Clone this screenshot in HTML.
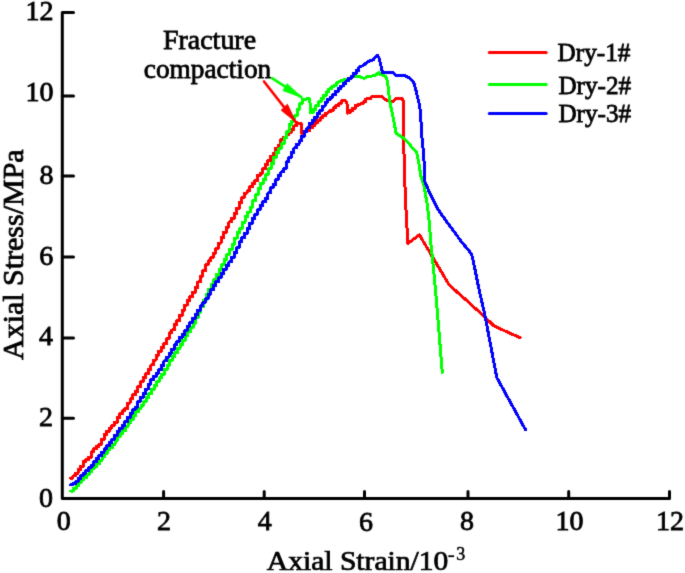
<!DOCTYPE html>
<html><head><meta charset="utf-8"><style>
html,body{margin:0;padding:0;background:#fff;}
svg{display:block;will-change:transform;}
text{font-family:"Liberation Serif", serif;fill:#000;}
</style></head><body>
<svg width="685" height="573" viewBox="0 0 685 573">
<defs><filter id="bl" x="0" y="0" width="685" height="573" filterUnits="userSpaceOnUse" color-interpolation-filters="sRGB"><feConvolveMatrix order="3" kernelMatrix="1 6 1 6 36 6 1 6 1" divisor="64" edgeMode="duplicate"/></filter></defs>
<rect width="685" height="573" fill="#fff"/>
<g filter="url(#bl)">
<g fill="none" stroke="#000" stroke-width="3" stroke-linecap="round" stroke-linejoin="round">
<path d="M73.5,12.5 H62.3 V498.6 H669.5 V491.5"/>
<path d="M62.3,96.1 H73.5 M62.3,176.1 H73.5 M62.3,257.1 H73.5 M62.3,338.1 H73.5 M62.3,418.2 H73.5"/>
<path d="M163.6,498.6 V491.5 M264.2,498.6 V491.5 M364.5,498.6 V491.5 M468,498.6 V491.5 M568.7,498.6 V491.5"/>
</g>
<text transform="translate(25.50,19.70)" font-size="28" stroke="#000" stroke-width="0.8">12</text>
<text transform="translate(25.55,100.85)" font-size="28" stroke="#000" stroke-width="0.8">10</text>
<text transform="translate(39.50,184.00)" font-size="28" stroke="#000" stroke-width="0.8">8</text>
<text transform="translate(39.15,265.20)" font-size="28" stroke="#000" stroke-width="0.8">6</text>
<text transform="translate(39.00,345.00)" font-size="28" stroke="#000" stroke-width="0.8">4</text>
<text transform="translate(39.00,426.05)" font-size="28" stroke="#000" stroke-width="0.8">2</text>
<text transform="translate(39.05,507.05)" font-size="28" stroke="#000" stroke-width="0.8">0</text>
<text transform="translate(56.70,530.05)" font-size="28" stroke="#000" stroke-width="0.8">0</text>
<text transform="translate(156.90,530.05)" font-size="28" stroke="#000" stroke-width="0.8">2</text>
<text transform="translate(257.80,530.20)" font-size="28" stroke="#000" stroke-width="0.8">4</text>
<text transform="translate(359.10,530.50)" font-size="28" stroke="#000" stroke-width="0.8">6</text>
<text transform="translate(460.10,530.00)" font-size="28" stroke="#000" stroke-width="0.8">8</text>
<text transform="translate(555.60,530.45)" font-size="28" stroke="#000" stroke-width="0.8">10</text>
<text transform="translate(656.10,529.60)" font-size="28" stroke="#000" stroke-width="0.8">12</text>
<text transform="translate(266.81,569.75) scale(1.020,0.937)" font-size="29" stroke="#000" stroke-width="0.8">Axial Strain/10</text>
<text transform="translate(456.30,559.95)" font-size="18" stroke="#000" stroke-width="0.5">3</text>
<text transform="translate(22.61,360.00) rotate(-90) scale(1.034,0.986)" font-size="29" stroke="#000" stroke-width="0.8">Axial Stress/MPa</text>
<text transform="translate(163.00,49.39) scale(0.998,1.011)" font-size="28" stroke="#000" stroke-width="0.8">Fracture</text>
<text transform="translate(143.80,77.90) scale(0.976,0.985)" font-size="28" stroke="#000" stroke-width="0.8">compaction</text>
<rect x="448.3" y="555.3" width="5.8" height="1.8" fill="#000"/>
<g fill="none" stroke-width="3" stroke-linejoin="round" stroke-linecap="round">
<polyline shape-rendering="crispEdges" stroke="#ff0000" points="70.3,478.2 72.9,478.2 72.9,475.91 75.5,475.91 75.5,473.145 78.1,473.145 78.1,469.639 80.7,469.639 80.7,466.2 83.3,466.2 83.3,461.578 85.9,461.578 85.9,459.594 88.5,459.594 88.5,457.341 91.1,457.341 91.1,451.84 93.7,451.84 93.7,448.903 96.3,448.903 96.3,446.638 98.9,446.638 98.9,444.22 101.5,444.22 101.5,439.3 104.1,439.3 104.1,434.297 106.7,434.297 106.7,431.305 109.3,431.305 109.3,428.086 111.9,428.086 111.9,425.166 114.5,425.166 114.5,422.502 117.1,422.502 117.1,417.556 119.7,417.556 119.7,413.626 122.3,413.626 122.3,410.767 124.9,410.767 124.9,408.476 127.5,408.476 127.5,403.05 130.1,403.05 130.1,398.9 132.7,398.9 132.7,394.726 135.3,394.726 135.3,391.505 137.9,391.505 137.9,386.435 140.5,386.435 140.5,381.719 143.1,381.719 143.1,377.576 145.7,377.576 145.7,373.922 148.3,373.922 148.3,369.568 150.9,369.568 150.9,364.946 153.5,364.946 153.5,360.033 156.1,360.033 156.1,355.174 158.7,355.174 158.7,351.168 161.3,351.168 161.3,347.635 163.9,347.635 163.9,343.416 166.5,343.416 166.5,338.9 169.1,338.9 169.1,332.931 171.7,332.931 171.7,329.987 174.3,329.987 174.3,324.703 176.9,324.703 176.9,320.438 179.5,320.438 179.5,315.5 182.1,315.5 182.1,310.239 184.7,310.239 184.7,305 187.3,305 187.3,300.5 189.9,300.5 189.9,296.757 192.5,296.757 192.5,292.6 195.1,292.6 195.1,287.371 197.7,287.371 197.7,281.988 200.3,281.988 200.3,276.056 202.9,276.056 202.9,270.723 205.5,270.723 205.5,264.696 208.1,264.696 208.1,260.843 210.7,260.843 210.7,257.508 213.3,257.508 213.3,253 215.9,253 215.9,248.148 218.5,248.148 218.5,243.05 221.1,243.05 221.1,237.439 223.7,237.439 223.7,232.244 226.3,232.244 226.3,227.074 228.9,227.074 228.9,221.994 231.5,221.994 231.5,218.471 234.1,218.471 234.1,213.55 236.7,213.55 236.7,208.331 239.3,208.331 239.3,202.408 241.9,202.408 241.9,197.275 244.5,197.275 244.5,193.043 247.1,193.043 247.1,190.814 249.7,190.814 249.7,186.79 252.3,186.79 252.3,183.376 254.9,183.376 254.9,180.667 257.5,180.667 257.5,175.422 260.1,175.422 260.1,173.111 262.7,173.111 262.7,168.913 265.3,168.913 265.3,164.574 267.9,164.574 267.9,160.573 270.5,160.573 270.5,156.019 273.1,156.019 273.1,153.489 275.7,153.489 275.7,148.281 278.3,148.281 278.3,145.177 280.9,145.177 280.9,139.811 283.5,139.811 283.5,137.004 286.1,137.004 286.1,134.904 288.7,134.904 288.7,132.466 291.3,132.466 291.3,129.368 293.9,129.368 293.9,125.888 296.5,125.888 296.5,122.754 301.3,123.5 301.8,133.5 302,133.386 304.6,133.386 304.6,131.911 307.2,131.911 307.2,130.4 309.8,130.4 309.8,127.8 312.4,127.8 312.4,125.2 315,125.2 315,122.6 317.6,122.6 317.6,120.187 320.2,120.187 320.2,117.912 322.8,117.912 322.8,115.445 325.4,115.445 325.4,113.071 328,113.071 328,111.957 330.6,111.957 330.6,110.5 333.2,110.5 333.2,107.9 335.8,107.9 335.8,105.63 338.4,105.63 338.4,103.742 341,103.742 341,100.9 345.2,100.3 347,103.2 347.4,113.1 347.6,112.922 350.2,112.922 350.2,110.603 352.8,110.603 352.8,108.1 355.4,108.1 355.4,105.645 358,105.645 358,104.149 360.6,104.149 360.6,103.792 363.2,103.792 363.2,101.8 365.8,101.8 365.8,98.9909 368.4,98.9909 368.4,98.3182 371,98.3182 371,97.8 372.2,96 381.3,96 384.4,98.8 388.5,101.3 392.6,101.8 396.3,98.7 402.1,98.7 403.1,100.3 403.3,125.9 403.9,150.3 404.8,180 405.4,199.4 406.6,220.2 407.8,243.4 419.4,234.9 432.6,257.1 449.3,285.1 468.1,301.8 483.8,316.1 494.2,326.1 520.2,337.8"/>
<polyline shape-rendering="crispEdges" stroke="#00ff00" points="70.8,491 73.4,491 73.4,488.611 76,488.611 76,485.783 78.6,485.783 78.6,482.633 81.2,482.633 81.2,479.944 83.8,479.944 83.8,477.594 86.4,477.594 86.4,474.817 89,474.817 89,471.726 91.6,471.726 91.6,468.9 94.2,468.9 94.2,466.3 96.8,466.3 96.8,463.404 99.4,463.404 99.4,460.254 102,460.254 102,456.835 104.6,456.835 104.6,453.185 107.2,453.185 107.2,449.938 109.8,449.938 109.8,447.407 112.4,447.407 112.4,444.22 115,444.22 115,440.2 117.6,440.2 117.6,436.3 120.2,436.3 120.2,433.369 122.8,433.369 122.8,430.519 125.4,430.519 125.4,426.414 128,426.414 128,422.49 130.6,422.49 130.6,419.21 133.2,419.21 133.2,415.543 135.8,415.543 135.8,411.741 138.4,411.741 138.4,408.38 141,408.38 141,405.09 143.6,405.09 143.6,401.871 146.2,401.871 146.2,397.524 148.8,397.524 148.8,393.529 151.4,393.529 151.4,389.6 154,389.6 154,385.7 156.6,385.7 156.6,381.8 159.2,381.8 159.2,377.929 161.8,377.929 161.8,374.09 164.4,374.09 164.4,369.676 167,369.676 167,365.143 169.6,365.143 169.6,360.562 172.2,360.562 172.2,356.38 174.8,356.38 174.8,352.445 177.4,352.445 177.4,348.41 180,348.41 180,344.707 182.6,344.707 182.6,340.245 185.2,340.245 185.2,335.924 187.8,335.924 187.8,331.884 190.4,331.884 190.4,327.843 193,327.843 193,323 195.6,323 195.6,317.8 198.2,317.8 198.2,312.192 200.8,312.192 200.8,306.402 203.4,306.402 203.4,300.612 206,300.612 206,294.822 208.6,294.822 208.6,289.189 211.2,289.189 211.2,284.762 213.8,284.762 213.8,279.452 216.4,279.452 216.4,274.419 219,274.419 219,269.825 221.6,269.825 221.6,264.7 224.2,264.7 224.2,259.477 226.8,259.477 226.8,254.239 229.4,254.239 229.4,249.542 232,249.542 232,244.135 234.6,244.135 234.6,238.069 237.2,238.069 237.2,232.74 239.8,232.74 239.8,228.221 242.4,228.221 242.4,222.21 245,222.21 245,216.813 247.6,216.813 247.6,212.048 250.2,212.048 250.2,207.067 252.8,207.067 252.8,200.692 255.4,200.692 255.4,194.9 258,194.9 258,188.4 260.6,188.4 260.6,183.638 263.2,183.638 263.2,179.4 265.8,179.4 265.8,174.2 268.4,174.2 268.4,168.961 271,168.961 271,163.367 273.6,163.367 273.6,157.454 276.2,157.454 276.2,152.778 278.8,152.778 278.8,148.19 281.4,148.19 281.4,143.9 284,143.9 284,137.969 286.6,137.969 286.6,131.89 289.2,131.89 289.2,124.443 291.8,124.443 291.8,121.019 294.4,121.019 294.4,115.791 297,115.791 297,109.067 299.6,109.067 299.6,103.771 302.2,103.771 302.2,99 305.7,99.3 308.6,98.3 309.9,100.3 310.5,112.5 310.6,112.38 313.2,112.38 313.2,109.26 315.8,109.26 315.8,105.6 318.4,105.6 318.4,101.761 321,101.761 321,98.6537 323.6,98.6537 323.6,95.2879 326.2,95.2879 326.2,91.8415 328.8,91.8415 328.8,88.9878 331.4,88.9878 331.4,86.8667 334,86.8667 334,85.1062 336.6,85.1062 336.6,83.0757 339.2,81.6 343.4,80 348.6,78.5 351.7,77.4 355.9,76.4 360.1,76.9 364.3,78.5 367.4,76.4 372.7,75.9 376,75 378.6,72.6 380,74.2 382,74.6 385.3,76.2 387.4,80.9 388.5,89.3 389.5,99.7 391.1,108.1 393.7,120 396,133.2 403.3,138.1 409.4,144.2 416.8,152.8 419.2,165 420.8,175.7 424.3,187.2 427.4,205.6 429.2,221.4 431,245 431.9,252.9 434,273.9 436.8,305 442.3,372.5"/>
<polyline shape-rendering="crispEdges" stroke="#0000ff" points="70.3,484.8 72.9,484.8 72.9,483.624 75.5,483.624 75.5,481.688 78.1,481.688 78.1,478.538 80.7,478.538 80.7,475.6 83.3,475.6 83.3,473 85.9,473 85.9,470.419 88.5,470.419 88.5,467.868 91.1,467.868 91.1,465.037 93.7,465.037 93.7,461.676 96.3,461.676 96.3,458.523 98.9,458.523 98.9,455.432 101.5,455.432 101.5,452.182 104.1,452.182 104.1,448.883 106.7,448.883 106.7,445.84 109.3,445.84 109.3,442.716 111.9,442.716 111.9,439.32 114.5,439.32 114.5,435.568 117.1,435.568 117.1,431.141 119.7,431.141 119.7,428.4 122.3,428.4 122.3,425.617 124.9,425.617 124.9,421.428 127.5,421.428 127.5,417.669 130.1,417.669 130.1,413.256 132.7,413.256 132.7,409.6 135.3,409.6 135.3,407 137.9,407 137.9,401.196 140.5,401.196 140.5,397.306 143.1,397.306 143.1,393.694 145.7,393.694 145.7,389.017 148.3,389.017 148.3,384.157 150.9,384.157 150.9,379.452 153.5,379.452 153.5,376.233 156.1,376.233 156.1,373.014 158.7,373.014 158.7,369.795 161.3,369.795 161.3,365.383 163.9,365.383 163.9,360.95 166.5,360.95 166.5,357.05 169.1,357.05 169.1,353.129 171.7,353.129 171.7,349.177 174.3,349.177 174.3,344.984 176.9,344.984 176.9,341.023 179.5,341.023 179.5,337.305 182.1,337.305 182.1,334.291 184.7,334.291 184.7,330.516 187.3,330.516 187.3,326.15 189.9,326.15 189.9,322.25 192.5,322.25 192.5,318.422 195.1,318.422 195.1,314.589 197.7,314.589 197.7,310.162 200.3,310.162 200.3,305.781 202.9,305.781 202.9,302.021 205.5,302.021 205.5,298.864 208.1,298.864 208.1,294.149 210.7,294.149 210.7,289.657 213.3,289.657 213.3,285.664 215.9,285.664 215.9,281.7 218.5,281.7 218.5,277.8 221.1,277.8 221.1,273.581 223.7,273.581 223.7,269.288 226.3,269.288 226.3,265.295 228.9,265.295 228.9,261.934 231.5,261.934 231.5,257.356 234.1,257.356 234.1,252.432 236.7,252.432 236.7,247.5 239.3,247.5 239.3,241.929 241.9,241.929 241.9,237.7 244.5,237.7 244.5,233.5 247.1,233.5 247.1,228.3 249.7,228.3 249.7,223.172 252.3,223.172 252.3,218.548 254.9,218.548 254.9,214.148 257.5,214.148 257.5,209.763 260.1,209.763 260.1,205.556 262.7,205.556 262.7,201.8 265.3,201.8 265.3,198.538 267.9,198.538 267.9,192.948 270.5,192.948 270.5,187.686 273.1,187.686 273.1,184.405 275.7,184.405 275.7,179.5 278.3,179.5 278.3,175.397 280.9,175.397 280.9,171.986 283.5,171.986 283.5,168.705 286.1,168.705 286.1,161.833 288.7,161.833 288.7,157.5 291.3,157.5 291.3,152.431 293.9,152.431 293.9,147.912 296.5,147.912 296.5,144.143 299.1,144.143 299.1,140.924 301.7,140.924 301.7,136.091 304.3,136.091 304.3,131.58 306.9,131.58 306.9,127.94 309.5,127.94 309.5,123.425 312.1,123.425 312.1,120.6 314.7,120.6 314.7,117.3 317.3,117.3 317.3,113.689 319.9,113.689 319.9,110.15 322.5,110.15 322.5,106.025 325.1,106.025 325.1,102 327.7,102 327.7,99.4 330.3,99.4 330.3,97.2 332.9,97.2 332.9,94.7118 335.5,94.7118 335.5,91.5 338.1,91.5 338.1,88.6892 340.7,88.6892 340.7,86.0714 343.3,86.0714 343.3,83.5952 345.9,83.5952 345.9,80.9405 348.5,80.9405 348.5,78.3878 351.1,78.3878 351.1,76.0415 353.7,76.0415 353.7,73.2619 356.3,73.2619 356.3,70.419 358.9,70.419 358.9,67.9429 360.1,66.8 363.7,65.2 367.9,61.5 373.4,59.7 375.9,56.3 377.7,55.3 378.9,57.6 381,65.9 382.4,72.4 392.6,72.6 396.3,75.7 404.7,75.7 409.4,77.8 413.6,82 415.7,89.3 417.7,97.7 419.8,106 420.9,120 421.7,134.4 423.5,152.8 424.9,175 424.9,181.7 430.4,194.6 437.2,208 443.9,217.8 460.5,240.4 471.7,254.3 474.5,266.9 478.7,287.9 485.1,316.1 496.8,377.6 525.6,429.9"/>
<line x1="489.3" y1="52.6" x2="546.2" y2="52.6" stroke="#ff0000"/>
<line x1="489.3" y1="84.4" x2="546.2" y2="84.4" stroke="#00ff00"/>
<line x1="489.3" y1="113.4" x2="546.2" y2="113.4" stroke="#0000ff"/>
<line x1="264" y1="81.5" x2="295.2" y2="121.4" stroke="#ff0000" stroke-width="2.6"/>
<line x1="272" y1="78.2" x2="301.4" y2="97.2" stroke="#00ff00" stroke-width="2.6"/>
</g>
<polygon fill="#ff0000" stroke="#ff0000" stroke-width="1" stroke-linejoin="round" points="281.2,110.2 287.4,104.3 295.6,121.8"/>
<polygon fill="#00ff00" stroke="#00ff00" stroke-width="1" stroke-linejoin="round" points="283,90.5 287.2,83.8 301.8,97.5"/>
<text transform="translate(557.60,61.00) scale(0.970,1.010)" font-size="26" stroke="#000" stroke-width="0.8">Dry-1#</text>
<text transform="translate(558.40,93.50) scale(0.970,1.010)" font-size="26" stroke="#000" stroke-width="0.8">Dry-2#</text>
<text transform="translate(558.40,121.60) scale(0.970,1.010)" font-size="26" stroke="#000" stroke-width="0.8">Dry-3#</text>
</g>
</svg>
</body></html>
